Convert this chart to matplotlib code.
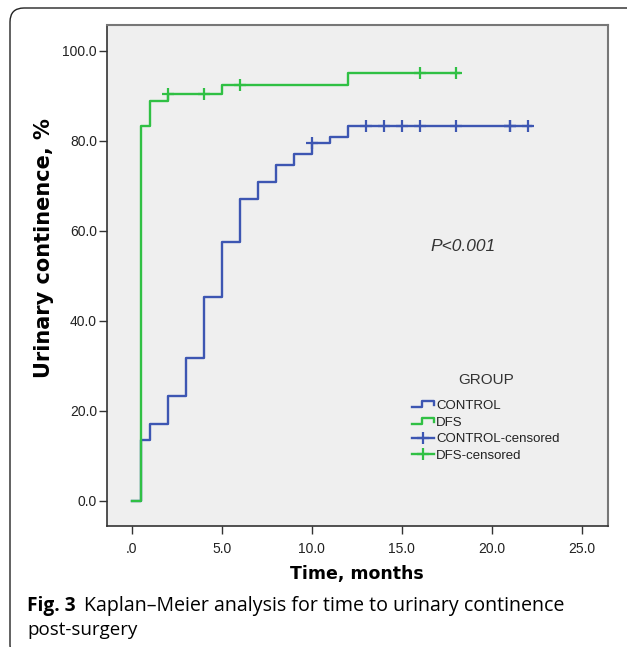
import matplotlib
matplotlib.use("Agg")
import matplotlib.pyplot as plt
from matplotlib.lines import Line2D
from matplotlib.legend_handler import HandlerBase
from matplotlib.patches import FancyBboxPatch
from matplotlib.transforms import IdentityTransform


# Kaplan-Meier data (time in months, continence in %)

ctrl_t = [0, 0.5, 1, 2, 3, 4, 5, 6, 7, 8, 9, 10, 11, 12]
ctrl_y = [0.0, 13.4, 17.1, 23.3, 31.7, 45.2, 57.5, 67.1, 70.8, 74.5, 77.0, 79.5, 80.8, 83.2]
ctrl_end = 22.2
ctrl_cens_t = [10, 13, 14, 15, 16, 18, 21, 21, 22]
ctrl_cens_y = [79.5, 83.2, 83.2, 83.2, 83.2, 83.2, 83.2, 83.2, 83.2]

dfs_t = [0, 0.5, 1, 2, 5, 12]
dfs_y = [0.0, 83.3, 88.9, 90.4, 92.4, 95.0]
dfs_end = 18.2
dfs_cens_t = [2, 4, 6, 16, 18]
dfs_cens_y = [90.4, 90.4, 92.4, 95.0, 95.0]

x_ticks = [0, 5, 10, 15, 20, 25]
x_labels = [".0", "5.0", "10.0", "15.0", "20.0", "25.0"]
y_ticks = [0, 20, 40, 60, 80, 100]
y_labels = ["0.0", "20.0", "40.0", "60.0", "80.0", "100.0"]

BLUE = "#3d56b2"
GREEN = "#30c044"

plt.rcParams["font.family"] = ["Liberation Sans", "DejaVu Sans"]


class StepHandler(HandlerBase):
    # little step glyph used by SPSS legends
    def create_artists(self, legend, orig_handle, xdescent, ydescent,
                       width, height, fontsize, trans):
        x0 = -xdescent
        y0 = -ydescent
        xs = [x0, x0 + 0.45 * width, x0 + 0.45 * width, x0 + width, x0 + width]
        ys = [y0 + 0.2 * height, y0 + 0.2 * height, y0 + 0.85 * height,
              y0 + 0.85 * height, y0 + 0.45 * height]
        ln = Line2D(xs, ys, color=orig_handle.get_color(),
                    lw=orig_handle.get_linewidth(), transform=trans)
        return [ln]


fig = plt.figure(figsize=(6.27, 6.47), dpi=100)

# rounded frame around the whole figure (cut at right/bottom like the source)
frame = FancyBboxPatch((10, -12), 640, 651,
                       boxstyle="round,pad=0,rounding_size=14",
                       transform=IdentityTransform(), fill=False,
                       ec="#222222", lw=1.0, figure=fig)
fig.patches.append(frame)

ax = fig.add_axes([0.1702, 0.1875, 0.799, 0.7739])
ax.set_facecolor("#efefef")

ax.step(ctrl_t + [ctrl_end], ctrl_y + [ctrl_y[-1]], where="post",
        color=BLUE, lw=1.7, zorder=3)
ax.step(dfs_t + [dfs_end], dfs_y + [dfs_y[-1]], where="post",
        color=GREEN, lw=1.7, zorder=4)
ax.plot(ctrl_cens_t, ctrl_cens_y, ls="none", marker="+", ms=8, mew=1.6,
        color=BLUE, zorder=5)
ax.plot(dfs_cens_t, dfs_cens_y, ls="none", marker="+", ms=8, mew=1.6,
        color=GREEN, zorder=5)

ax.set_xlim(-1.39, 26.44)
ax.set_ylim(-5.56, 105.7)
ax.set_xticks(x_ticks)
ax.set_xticklabels(x_labels)
ax.set_yticks(y_ticks)
ax.set_yticklabels(y_labels)
ax.tick_params(axis="both", direction="out", length=6, width=1.0,
               color="#333333", labelsize=10, labelcolor="#222222")
ax.tick_params(axis="y", pad=1)
ax.tick_params(axis="x", pad=6)
for side in ["left", "bottom"]:
    ax.spines[side].set_color("#333333")
    ax.spines[side].set_linewidth(1.2)
for side in ["top", "right"]:
    ax.spines[side].set_color("#777777")
    ax.spines[side].set_linewidth(1.5)

ax.text(16.57, 55.5, "P<0.001", style="italic", fontsize=12.5,
        color="#333333", va="baseline", ha="left")

# legend
h_ctrl = Line2D([], [], color=BLUE, lw=1.7)
h_dfs = Line2D([], [], color=GREEN, lw=1.7)
h_ctrl_c = Line2D([], [], color=BLUE, lw=1.7, marker="+", ms=9, mew=1.6)
h_dfs_c = Line2D([], [], color=GREEN, lw=1.7, marker="+", ms=9, mew=1.6)
leg = ax.legend([h_ctrl, h_dfs, h_ctrl_c, h_dfs_c],
                ["CONTROL", "DFS", "CONTROL-censored", "DFS-censored"],
                handler_map={h_ctrl: StepHandler(), h_dfs: StepHandler()},
                title="GROUP", title_fontsize=11, fontsize=9.5,
                frameon=False, loc="upper left",
                bbox_to_anchor=(0.609, 0.304), borderpad=0, borderaxespad=0,
                handlelength=1.7, handletextpad=0.15, labelspacing=0.33,
                numpoints=1)
leg._legend_box.sep = 9
for t in leg.get_texts():
    t.set_color("#222222")
leg.get_title().set_color("#333333")

# axis labels
fig.text(357 / 627, 1 - 579 / 647, "Time, months", family="DejaVu Sans",
         weight="bold", fontsize=12.5, ha="center", va="baseline")
fig.text(44 / 627, 1 - 248 / 647, "Urinary continence, %", family="DejaVu Sans",
         weight="bold", fontsize=15, rotation=90, ha="center", va="center")

# caption
fig.text(27 / 627, 1 - 611 / 647, "Fig. 3", family="Open Sans",
         weight="bold", fontsize=13.8, va="baseline", ha="left")
fig.text(84 / 627, 1 - 611 / 647,
         "Kaplan\u2013Meier analysis for time to urinary continence",
         family="Open Sans", fontsize=14.1, va="baseline", ha="left")
fig.text(27 / 627, 1 - 635 / 647, "post-surgery", family="Open Sans",
         fontsize=13.5, va="baseline", ha="left")

fig.savefig("out.png", dpi=100, facecolor="white")
